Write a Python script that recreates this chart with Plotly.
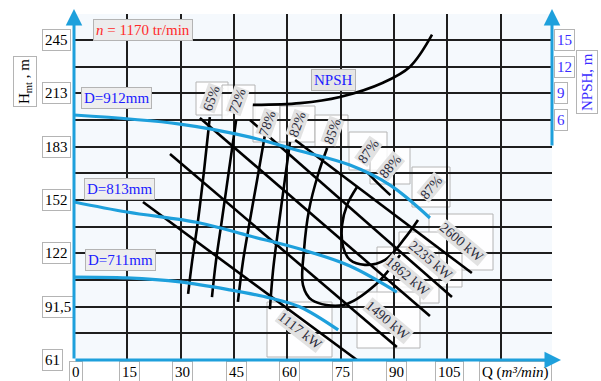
import plotly.graph_objects as go

# ---------------- data (Q in m3/min, H in m, NPSH in m) ----------------
q_d912 = [0, 29.8, 49.5, 63.6, 77.6, 88.9, 100.1]
h_d912 = [201.9, 196.7, 189.2, 181.2, 173.1, 161.6, 142.7]
q_d813 = [0, 14.9, 35.4, 49.5, 63.6, 77.6, 90.8]
h_d813 = [151.9, 146.1, 139.8, 132.3, 124.8, 115.1, 100.1]
q_d711 = [0, 14.9, 29.8, 43.9, 55.1, 63.6, 74.3]
h_d711 = [108.7, 108.2, 105.9, 101.3, 96.7, 91.5, 78.3]

q_npsh = [50.3, 63.6, 74.8, 86.9, 94.5, 100.7]
npsh = [7.7, 7.9, 8.6, 10.2, 12.0, 15.6]

q_e65 = [38.2, 36.6, 34.9, 33.2, 32.1]
h_e65 = [200.7, 170.3, 141.5, 117.4, 99.0]
q_e72 = [45.6, 43.6, 41.6, 39.9, 38.8]
h_e72 = [199.0, 170.3, 141.5, 117.4, 97.2]
q_e78 = [53.7, 51.5, 49.5, 47.5, 46.1]
h_e78 = [190.4, 164.5, 141.5, 117.4, 94.4]
q_e82 = [60.75, 59.1, 57.4, 56.0, 55.1]
h_e82 = [186.4, 161.6, 135.8, 112.8, 90.3]
q_e85 = [71.2, 68.6, 66.1, 64.7, 64.4, 66.9, 75.7, 84.7, 91.7]
h_e85 = [182.9, 167.4, 147.3, 124.3, 104.1, 95.5, 92.6, 104.1, 121.4]
q_e87 = [79.6, 76.8, 75.4, 75.7, 77.6, 81.8, 87.5, 93.1, 96.75]
h_e87 = [160.5, 150.2, 138.7, 126.0, 118.6, 115.7, 118.6, 131.2, 141.5]
q_e88 = [82.4, 86.0, 89.0]
h_e88 = [169.1, 161.6, 155.8]

q_p1117 = [19.4, 79.6]
h_p1117 = [151.9, 61.0]
q_p1490 = [27.0, 90.8]
h_p1490 = [179.5, 68.5]
q_p1862 = [35.4, 100.1]
h_p1862 = [200.2, 86.3]
q_p2235 = [49.5, 106.3]
h_p2235 = [199.0, 97.2]
q_p2600 = [62.2, 111.9]
h_p2600 = [187.5, 111.0]

x_ticks = [0, 15, 30, 45, 60, 75, 90, 105]
y_tick_labels = ["245", "213", "183", "152", "122", "91,5", "61"]
y_tick_vals = [245, 214.33, 183.67, 153, 122.33, 91.67, 61]
npsh_ticks = [15, 12, 9, 6]
eff_labels = ["65%", "72%", "78%", "82%", "85%", "87%", "88%", "87%"]
kw_labels = ["2600 kW", "2235 kW", "1862 kW", "1490 kW", "1117 kW"]

# ---------------- layout helpers ----------------
W, H = 601, 381
L, R, T, B = 74, 552, 14, 360
def px(x):
    return (x - L) / (R - L)
def py(y):
    return (B - y) / (B - T)

BLUE = "#1ea0dc"
SERIF = "Liberation Serif"

fig = go.Figure()

def line(q, h, color="black", width=2.6, shape="spline", yaxis="y"):
    fig.add_trace(go.Scatter(x=q, y=h, mode="lines", yaxis=yaxis,
                             line=dict(color=color, width=width, shape=shape, smoothing=1.0),
                             hoverinfo="skip", showlegend=False))

for q, h in [(q_p1117, h_p1117), (q_p1490, h_p1490), (q_p1862, h_p1862),
             (q_p2235, h_p2235), (q_p2600, h_p2600)]:
    line(q, h, shape="linear")
for q, h in [(q_e65, h_e65), (q_e72, h_e72), (q_e78, h_e78), (q_e82, h_e82),
             (q_e85, h_e85), (q_e87, h_e87), (q_e88, h_e88)]:
    line(q, h)
for q, h in [(q_d912, h_d912), (q_d813, h_d813), (q_d711, h_d711)]:
    line(q, h, color=BLUE, width=3.2)
line(q_npsh, npsh, yaxis="y2")

shapes = []
annotations = []

# label boxes (outer frames)
eff_boxes = [(196, 82, 228, 115), (222, 85, 255, 120), (253, 105, 280, 142), (280, 106, 315, 142),
             (315, 115, 348, 147), (349, 132, 387, 170), (370, 147, 410, 184), (412, 167, 450, 207)]
eff_pos = [(211, 98), (238, 101), (267, 123), (297, 124), (332, 131), (368, 151), (390, 166), (431, 187)]
eff_ang = [-70, -70, -70, -70, -70, -55, -50, -50]
kw_boxes = [(429, 214, 493, 270), (399, 232, 462, 287), (377, 247, 439, 303),
            (357, 292, 420, 348), (267, 302, 332, 357)]
kw_pos = [(462, 242), (431, 260), (408, 276), (388, 320), (300, 330)]
kw_ang = [40, 40, 40, 40, 38]

for (x0, y0, x1, y1) in eff_boxes + kw_boxes:
    shapes.append(dict(type="rect", xref="paper", yref="paper", x0=px(x0), x1=px(x1),
                       y0=py(y1), y1=py(y0), line=dict(color="#b4b4b4", width=1),
                       fillcolor="rgba(255,255,255,0.85)", layer="below"))

C = dict(xanchor="center", yanchor="middle", showarrow=False)
for txt, (x, y), a in zip(eff_labels, eff_pos, eff_ang):
    annotations.append(dict(text=txt, xref="paper", yref="paper", x=px(x), y=py(y),
                            textangle=a, bgcolor="#e2e2e2", borderpad=0,
                            font=dict(family=SERIF, size=14, color="#2b2b3b"), **C))
for txt, (x, y), a in zip(kw_labels, kw_pos, kw_ang):
    annotations.append(dict(text=txt, xref="paper", yref="paper", x=px(x), y=py(y),
                            textangle=a, bgcolor="#e2e2e2", borderpad=0,
                            font=dict(family=SERIF, size=14, color="#2b2b3b"), **C))

box = dict(bordercolor="#b4b4b4", borderwidth=1, borderpad=2, showarrow=False, yanchor="middle")

# left tick labels
for txt, v in zip(y_tick_labels, y_tick_vals):
    annotations.append(dict(text=txt, xref="paper", yref="y", x=px(42), y=v, xanchor="left",
                            bgcolor="white", font=dict(family=SERIF, size=15, color="black"), **box))
# bottom tick labels
for v in x_ticks:
    annotations.append(dict(text=str(v), xref="x", yref="paper", x=v + 0.6, y=py(372),
                            xanchor="center", bgcolor="white",
                            font=dict(family=SERIF, size=15, color="black"), **box))
annotations.append(dict(text="Q (<i>m³/min</i>)", xref="paper", yref="paper", x=px(479), y=py(372),
                        xanchor="left", bgcolor="white",
                        font=dict(family=SERIF, size=15, color="black"), **box))
# right tick labels
for v in npsh_ticks:
    annotations.append(dict(text=str(v), xref="paper", yref="y2", x=px(554), y=v, xanchor="left",
                            bgcolor="white", font=dict(family=SERIF, size=15, color="#3a2cff"), **box))
annotations.append(dict(text="NPSH, m", xref="paper", yref="paper", x=px(587), y=py(82),
                        xanchor="center", textangle=-90, bgcolor="white",
                        font=dict(family=SERIF, size=15, color="#3a2cff"), **box))
annotations.append(dict(text="H<sub>mt</sub> , m", xref="paper", yref="paper", x=px(25), y=py(82),
                        xanchor="center", textangle=-90, bgcolor="white",
                        font=dict(family=SERIF, size=15, color="black"), **box))
annotations.append(dict(text="<i>n</i> = 1170 tr/min", xref="paper", yref="paper", x=px(143), y=py(30),
                        xanchor="center", bgcolor="#ececec",
                        font=dict(family=SERIF, size=15, color="#ff2a2a"), **box))
for txt, (x, y) in [("D=912mm", (116, 98)), ("D=813mm", (119, 189)), ("D=711mm", (120, 260))]:
    annotations.append(dict(text=txt, xref="paper", yref="paper", x=px(x), y=py(y),
                            xanchor="center", bgcolor="#eeeeee",
                            font=dict(family=SERIF, size=15, color="#2020ff"), **box))
annotations.append(dict(text="NPSH", xref="paper", yref="paper", x=px(333), y=py(80),
                        xanchor="center", bgcolor="#e6e6e6",
                        font=dict(family=SERIF, size=15, color="#2020ff"), **box))

# axis arrows
arrow = dict(text="", showarrow=True, arrowhead=2, arrowsize=1.1, arrowwidth=3,
             arrowcolor=BLUE, xref="paper", yref="paper", standoff=0)
annotations.append(dict(x=0, y=py(9), ax=0, ay=351, **arrow))
annotations.append(dict(x=px(561), y=0, ax=-487, ay=0, **arrow))
annotations.append(dict(x=1, y=py(9), ax=0, ay=138, **arrow))

fig.update_layout(
    width=W, height=H,
    margin=dict(l=L, r=W - R, t=T, b=H - B, autoexpand=False),
    paper_bgcolor="white", plot_bgcolor="#f5f9fd",
    showlegend=False,
    xaxis=dict(range=[0, (R - L) * 0.28125], tick0=0, dtick=15, showticklabels=False,
               showgrid=True, gridcolor="#1e1e1e", gridwidth=1.5, zeroline=False,
               showline=False, ticks=""),
    yaxis=dict(range=[61, 260], tick0=61, dtick=184 / 12, showticklabels=False,
               showgrid=True, gridcolor="#1e1e1e", gridwidth=1.5, zeroline=False,
               showline=False, ticks=""),
    yaxis2=dict(range=[-21, 17.93], overlaying="y", side="right", showgrid=False,
                showticklabels=False, zeroline=False, showline=False, ticks=""),
    shapes=shapes, annotations=annotations,
)

fig.write_html("out.html", config={"displayModeBar": False},
               post_script="document.body.style.margin='0px';document.body.style.overflow='hidden';")
